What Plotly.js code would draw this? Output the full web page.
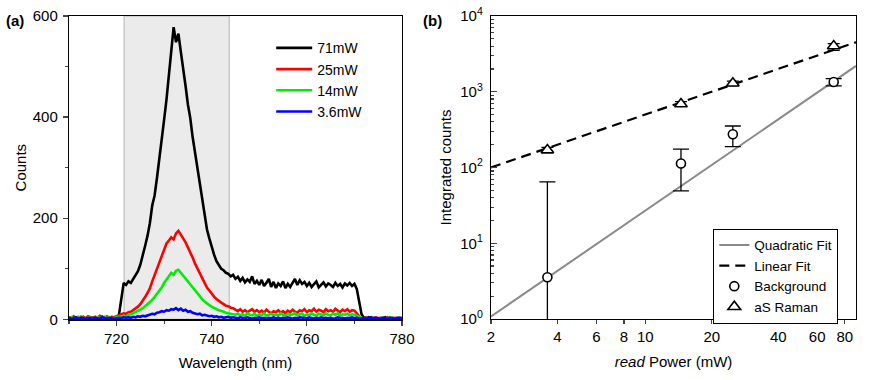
<!DOCTYPE html>
<html>
<head>
<meta charset="utf-8">
<script src="https://cdn.plot.ly/plotly-3.0.1.min.js"></script>
<style>
  body { margin: 0; background: #fff; }
  #chart { width: 872px; height: 380px; }
</style>
</head>
<body>
<div id="chart"></div>
<script>
// (a) spectra, sampled every 0.5 nm from 710 to 780 nm
const wavelength = [
  710, 710.5, 711, 711.5, 712, 712.5, 713, 713.5, 714, 714.5,
  715, 715.5, 716, 716.5, 717, 717.5, 718, 718.5, 719, 719.5,
  720, 720.5, 721, 721.5, 722, 722.5, 723, 723.5, 724, 724.5,
  725, 725.5, 726, 726.5, 727, 727.5, 728, 728.5, 729, 729.5,
  730, 730.5, 731, 731.5, 732, 732.5, 733, 733.5, 734, 734.5,
  735, 735.5, 736, 736.5, 737, 737.5, 738, 738.5, 739, 739.5,
  740, 740.5, 741, 741.5, 742, 742.5, 743, 743.5, 744, 744.5,
  745, 745.5, 746, 746.5, 747, 747.5, 748, 748.5, 749, 749.5,
  750, 750.5, 751, 751.5, 752, 752.5, 753, 753.5, 754, 754.5,
  755, 755.5, 756, 756.5, 757, 757.5, 758, 758.5, 759, 759.5,
  760, 760.5, 761, 761.5, 762, 762.5, 763, 763.5, 764, 764.5,
  765, 765.5, 766, 766.5, 767, 767.5, 768, 768.5, 769, 769.5,
  770, 770.5, 771, 771.5, 772, 772.5, 773, 773.5, 774, 774.5,
  775, 775.5, 776, 776.5, 777, 777.5, 778, 778.5, 779, 779.5,
  780
];
const counts71 = [
  3, 2, 4, 1, 3, 2, 5, 1, 3, 2,
  4, 2, 1, 3, 5, 2, 3, 1, 4, 2,
  3, 8, 45, 72, 68, 75, 72, 80, 86, 95,
  108, 125, 145, 165, 190, 225, 245, 280, 315, 350,
  395, 435, 480, 520, 578, 548, 565, 530, 490, 462,
  425, 398, 360, 330, 300, 268, 235, 205, 178, 160,
  142, 128, 115, 108, 100, 97, 92, 90, 85, 88,
  80, 84, 76, 82, 73, 79, 74, 85, 70, 76,
  68, 78, 66, 72, 80, 64, 74, 62, 71, 66,
  75, 62, 70, 64, 72, 80, 68, 77, 70, 74,
  66, 72, 64, 70, 75, 63, 69, 73, 65, 71,
  68, 64, 72, 66, 70, 63, 71, 67, 72, 66,
  70, 60, 35, 10, 3, 2, 4, 1, 3, 2,
  1, 3, 2, 4, 1, 2, 3, 1, 2, 3,
  2
];
const counts25 = [
  4, 2, 6, 3, 1, 5, 3, 2, 6, 4,
  2, 5, 3, 7, 4, 2, 6, 3, 5, 4,
  6, 8, 10, 12, 11, 14, 15, 18, 21, 25,
  30, 36, 44, 52, 61, 75, 88, 100, 115, 128,
  140, 150, 156, 162, 158, 170, 175, 166, 160, 152,
  142, 135, 122, 110, 100, 91, 80, 72, 63, 57,
  50, 45, 40, 36, 33, 30, 27, 26, 23, 22,
  19, 16, 20, 15, 18, 14, 17, 20, 15, 18,
  14, 17, 13, 19, 15, 12, 16, 14, 18, 13,
  16, 12, 17, 14, 19, 15, 13, 18, 16, 20,
  14, 18, 16, 21, 15, 19, 17, 14, 20, 16,
  18, 15, 21, 17, 14, 19, 16, 20, 15, 18,
  17, 12, 6, 3, 2, 4, 1, 3, 2, 4,
  2, 1, 3, 2, 4, 1, 2, 3, 1, 2,
  3
];
const counts14 = [
  2, 4, 1, 3, 5, 2, 3, 1, 4, 2,
  3, 1, 4, 2, 3, 5, 2, 4, 1, 3,
  4, 5, 6, 7, 6, 9, 10, 12, 14, 16,
  19, 22, 26, 30, 33, 38, 44, 50, 57, 63,
  72, 78, 86, 92, 88, 96, 98, 92, 86, 82,
  75, 70, 63, 57, 50, 45, 40, 35, 31, 28,
  25, 22, 20, 18, 17, 15, 13, 12, 11, 10,
  9, 11, 8, 10, 7, 12, 9, 8, 11, 7,
  10, 8, 12, 7, 9, 11, 8, 10, 7, 12,
  9, 7, 11, 8, 10, 12, 8, 9, 11, 7,
  10, 8, 12, 9, 7, 11, 10, 8, 12, 9,
  8, 11, 9, 12, 7, 10, 9, 11, 8, 10,
  9, 7, 4, 2, 1, 3, 2, 1, 3, 2,
  1, 2, 3, 1, 2, 4, 1, 2, 3, 1,
  2
];
const counts3_6 = [
  3, 1, 2, 4, 1, 3, 2, 1, 3, 2,
  1, 3, 2, 1, 4, 2, 1, 3, 2, 1,
  2, 3, 2, 4, 3, 4, 3, 5, 4, 6,
  5, 7, 6, 8, 9, 11, 10, 13, 14, 16,
  15, 18, 17, 20, 19, 22, 18, 21, 17, 19,
  15, 16, 13, 12, 10, 11, 8, 9, 7, 6,
  7, 5, 6, 4, 5, 3, 4, 5, 3, 4,
  3, 2, 4, 3, 2, 4, 3, 1, 3, 2,
  4, 2, 3, 1, 3, 2, 4, 2, 3, 1,
  3, 2, 4, 2, 1, 3, 2, 4, 3, 2,
  2, 4, 3, 1, 3, 2, 4, 2, 3, 2,
  3, 1, 2, 4, 2, 3, 1, 3, 2, 4,
  2, 3, 1, 2, 3, 1, 2, 4, 1, 3,
  2, 1, 3, 2, 1, 3, 2, 1, 3, 2,
  2
];
const spectraLabels = ['71mW', '25mW', '14mW', '3.6mW'];
const spectraColors = ['#000000', '#ff0000', '#00ee00', '#0000ff'];
const shadeBand = [721.6, 743.7];

// (b) integrated counts vs read power
const powerMW = [3.6, 14.5, 24.9, 71.3];
const backgroundCounts = [3.55, 113, 274, 1345];
const backgroundErrUp = [61, 62, 79, 142];
const backgroundErrDown = [3.55, 64, 86, 154];
const ramanCounts = [170, 689, 1292, 4018];
const ramanErrUp = [14, 50, 90, 300];
const ramanErrDown = [14, 50, 90, 500];
const fitPower = [2, 90];
const linearFitCounts = [100, 4500];
const quadraticFitCounts = [1.08, 2190];
const yTickVals = [1, 10, 100, 1000, 10000];
const yTickText = ['10<sup>0</sup>', '10<sup>1</sup>', '10<sup>2</sup>', '10<sup>3</sup>', '10<sup>4</sup>'];
const xTickVals = [2, 4, 6, 8, 10, 20, 40, 60, 80];

const FONT = 'Liberation Sans, Arial, sans-serif';

const spectra = [counts71, counts25, counts14, counts3_6];
const traces = spectra.map((c, i) => ({
    x: wavelength,
    y: c,
    type: 'scatter',
    mode: 'lines',
    name: spectraLabels[i],
    line: { color: spectraColors[i], width: 2.6 },
    xaxis: 'x',
    yaxis: 'y',
    legend: 'legend2'
}));

traces.push({
    x: fitPower, y: quadraticFitCounts, type: 'scatter', mode: 'lines',
    name: 'Quadratic Fit', line: { color: '#8a8a8a', width: 2 },
    xaxis: 'x2', yaxis: 'y2'
});
traces.push({
    x: fitPower, y: linearFitCounts, type: 'scatter', mode: 'lines',
    name: 'Linear Fit', line: { color: '#000', width: 2.2, dash: '10px,6px' },
    xaxis: 'x2', yaxis: 'y2'
});
traces.push({
    x: powerMW, y: backgroundCounts, type: 'scatter', mode: 'markers',
    name: 'Background',
    marker: { symbol: 'circle', size: 9, color: '#fff', line: { color: '#000', width: 1.6 } },
    error_y: { type: 'data', array: backgroundErrUp, arrayminus: backgroundErrDown, color: '#000', thickness: 1.3, width: 8 },
    xaxis: 'x2', yaxis: 'y2'
});
traces.push({
    x: powerMW, y: ramanCounts, type: 'scatter', mode: 'markers',
    name: 'aS Raman',
    marker: { symbol: 'triangle-up', size: 11, color: '#fff', line: { color: '#000', width: 1.6 } },
    error_y: { type: 'data', array: ramanErrUp, arrayminus: ramanErrDown, color: '#000', thickness: 1.3, width: 6 },
    xaxis: 'x2', yaxis: 'y2'
});

const tickFont = { family: FONT, size: 15, color: '#000' };
const titleFont = { family: FONT, size: 15, color: '#000' };
const logRangeX = [Math.log10(2), Math.log10(90)];
const minorLogVals = [];
for (let d = 1; d < 10000; d *= 10) {
    for (let k = 2; k <= 9; k++) minorLogVals.push(k * d);
}

const layout = {
    width: 872,
    height: 380,
    margin: { l: 0, r: 0, t: 0, b: 0 },
    paper_bgcolor: '#fff',
    plot_bgcolor: 'rgba(0,0,0,0)',
    font: { family: FONT, size: 15, color: '#000' },
    xaxis: {
        domain: [0.0791, 0.461], anchor: 'y', range: [710, 780],
        dtick: 20, tick0: 0, ticks: 'outside', ticklen: 5, tickwidth: 1.2,
        minor: { dtick: 10, ticks: 'outside', ticklen: 3 },
        showline: true, linecolor: '#000', linewidth: 1.2, mirror: true,
        showgrid: false, zeroline: false, tickfont: tickFont,
        title: { text: 'Wavelength (nm)', font: titleFont, standoff: 12 }
    },
    yaxis: {
        domain: [0.1597, 0.958], anchor: 'x', range: [0, 600],
        dtick: 200, ticks: 'outside', ticklen: 5, tickwidth: 1.2,
        minor: { dtick: 100, ticks: 'outside', ticklen: 3 },
        showline: true, linecolor: '#000', linewidth: 1.2, mirror: true,
        showgrid: false, zeroline: false, tickfont: tickFont,
        ticklabelstandoff: 2,
        title: { text: 'Counts', font: titleFont, standoff: 2 }
    },
    xaxis3: {
        overlaying: 'x', anchor: 'y', side: 'top', range: [710, 780],
        dtick: 10, tick0: 0, ticks: 'inside', ticklen: 4, tickwidth: 1.2,
        showticklabels: false, showgrid: false, zeroline: false, showline: false
    },
    yaxis3: {
        overlaying: 'y', anchor: 'x', side: 'right', range: [0, 600],
        dtick: 200, ticks: 'inside', ticklen: 5, tickwidth: 1.2,
        minor: { dtick: 100, ticks: 'inside', ticklen: 3 },
        showticklabels: false, showgrid: false, zeroline: false, showline: false
    },
    xaxis2: {
        domain: [0.5631, 0.9817], anchor: 'y2', type: 'log', range: logRangeX,
        tickvals: xTickVals, ticktext: xTickVals.map(String),
        ticks: 'outside', ticklen: 4, tickwidth: 1.2,
        showline: true, linecolor: '#000', linewidth: 1.2, mirror: true,
        showgrid: false, zeroline: false, tickfont: tickFont,
        title: { text: '<i>read</i> Power (mW)', font: titleFont, standoff: 12 }
    },
    yaxis2: {
        domain: [0.1605, 0.958], anchor: 'x2', type: 'log', range: [0, 4],
        tickvals: yTickVals, ticktext: yTickText,
        ticks: 'inside', ticklen: 6, tickwidth: 1.2,
        minor: { tickvals: minorLogVals, ticks: 'inside', ticklen: 3 },
        showline: true, linecolor: '#000', linewidth: 1.2, mirror: true,
        showgrid: false, zeroline: false, tickfont: tickFont,
        ticklabelstandoff: 4,
        title: { text: 'Integrated counts', font: titleFont, standoff: 5 }
    },
    xaxis4: {
        overlaying: 'x2', anchor: 'y2', side: 'top', type: 'log', range: logRangeX,
        tickvals: xTickVals, ticks: 'inside', ticklen: 4, tickwidth: 1.2,
        showticklabels: false, showgrid: false, zeroline: false, showline: false
    },
    yaxis4: {
        overlaying: 'y2', anchor: 'x2', side: 'right', type: 'log', range: [0, 4],
        tickvals: yTickVals, ticks: 'outside', ticklen: 5, tickwidth: 1.2,
        minor: { tickvals: minorLogVals, ticks: 'outside', ticklen: 3 },
        showticklabels: false, showgrid: false, zeroline: false, showline: false
    },
    shapes: [{
        type: 'rect', xref: 'x', yref: 'y domain',
        x0: shadeBand[0], x1: shadeBand[1], y0: 0, y1: 1,
        fillcolor: '#ebebeb', line: { color: '#c8c8c8', width: 1.5 }, layer: 'below'
    }],
    legend2: {
        x: 0.311, y: 0.915, xanchor: 'left', yanchor: 'top',
        bgcolor: 'rgba(0,0,0,0)', borderwidth: 0,
        font: { family: FONT, size: 14, color: '#000' },
        tracegroupgap: 0, itemwidth: 36
    },
    legend: {
        x: 0.818, y: 0.398, xanchor: 'left', yanchor: 'top',
        bgcolor: '#fff', bordercolor: '#000', borderwidth: 1,
        font: { family: FONT, size: 13.5, color: '#000' },
        tracegroupgap: 0, itemwidth: 30
    },
    showlegend: true,
    annotations: [
        { text: '<b>(a)</b>', xref: 'paper', yref: 'paper', x: 4 / 872, y: 1 - 21 / 380,
          xanchor: 'left', yanchor: 'middle', showarrow: false, font: { family: FONT, size: 15, color: '#000' } },
        { text: '<b>(b)</b>', xref: 'paper', yref: 'paper', x: 421 / 872, y: 1 - 21 / 380,
          xanchor: 'left', yanchor: 'middle', showarrow: false, font: { family: FONT, size: 15, color: '#000' } }
    ]
};

Plotly.newPlot('chart', traces, layout, { displayModeBar: false, staticPlot: true });
</script>
</body>
</html>
